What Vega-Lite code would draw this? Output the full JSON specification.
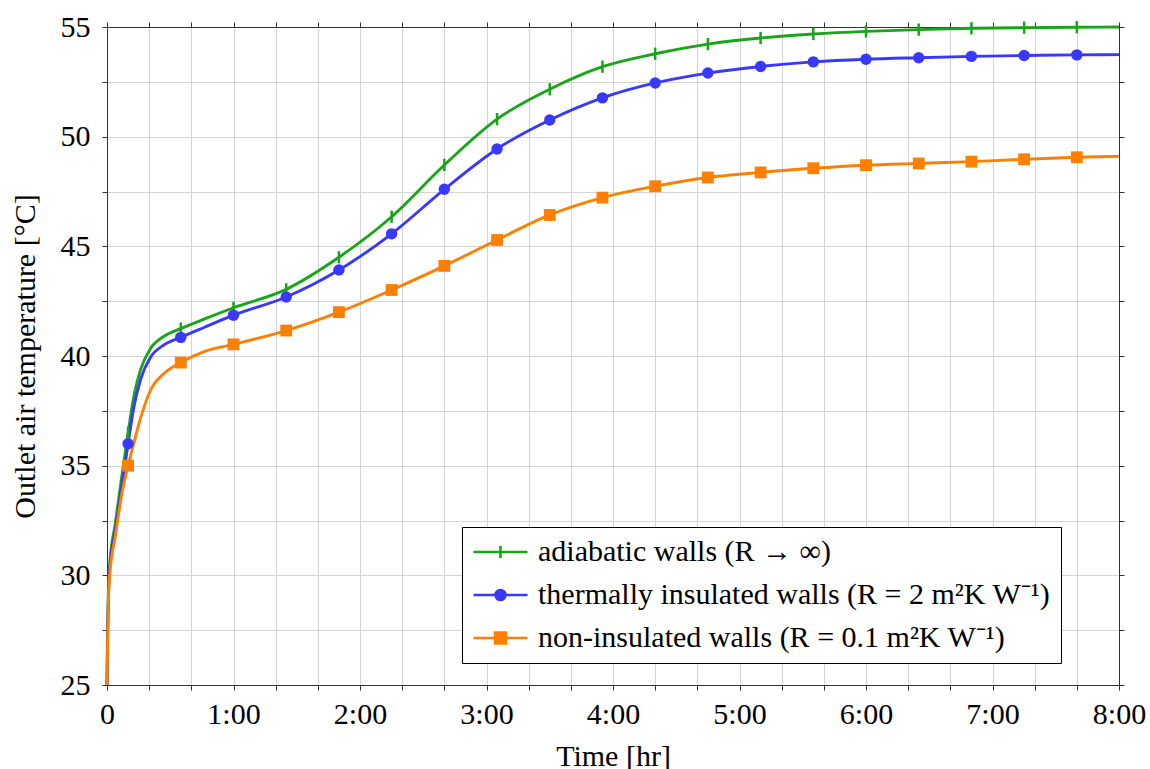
{
 "$schema": "https://vega.github.io/schema/vega-lite/v6.json",
 "width": 1012,
 "height": 658,
 "autosize": {"type": "none"},
 "padding": {"left": 107, "top": 27, "right": 31, "bottom": 84},
 "background": "white",
 "config": {
  "font": "Liberation Serif",
  "view": {"stroke": null},
  "style": {"guide-label": {"font": "Liberation Serif", "fill": "black"}, "guide-title": {"font": "Liberation Serif", "fontWeight": "normal"}},
  "axis": {
   "labelFont": "Liberation Serif", "titleFont": "Liberation Serif",
   "labelFontSize": 30, "titleFontSize": 30, "labelColor": "black", "titleColor": "black",
   "titleFontWeight": "normal", "domainColor": "#333333", "domainWidth": 1, "tickColor": "#333333", "tickWidth": 1, "tickSize": 5,
   "gridColor": "#d4d4d4", "gridWidth": 1, "labelOverlap": false, "labelFlush": false, "labelBound": false
  },
  "legend": {"labelFont": "Liberation Serif", "labelFontSize": 30, "labelColor": "black"}
 },
 "datasets": {
  "curves": [
   {"series": "adiabatic walls (R → ∞)", "t": 0, "temp": 25},
   {"series": "adiabatic walls (R → ∞)", "t": 0.3, "temp": 27.5},
   {"series": "adiabatic walls (R → ∞)", "t": 0.7, "temp": 29.4},
   {"series": "adiabatic walls (R → ∞)", "t": 1.3, "temp": 30.5},
   {"series": "adiabatic walls (R → ∞)", "t": 4, "temp": 32.4},
   {"series": "adiabatic walls (R → ∞)", "t": 7, "temp": 34.5},
   {"series": "adiabatic walls (R → ∞)", "t": 10, "temp": 36.5},
   {"series": "adiabatic walls (R → ∞)", "t": 12.8, "temp": 38.2},
   {"series": "adiabatic walls (R → ∞)", "t": 16, "temp": 39.4},
   {"series": "adiabatic walls (R → ∞)", "t": 20.7, "temp": 40.35},
   {"series": "adiabatic walls (R → ∞)", "t": 27, "temp": 40.9},
   {"series": "adiabatic walls (R → ∞)", "t": 35, "temp": 41.25},
   {"series": "adiabatic walls (R → ∞)", "t": 46, "temp": 41.68},
   {"series": "adiabatic walls (R → ∞)", "t": 60, "temp": 42.2},
   {"series": "adiabatic walls (R → ∞)", "t": 85, "temp": 43.04},
   {"series": "adiabatic walls (R → ∞)", "t": 110, "temp": 44.5},
   {"series": "adiabatic walls (R → ∞)", "t": 135, "temp": 46.35},
   {"series": "adiabatic walls (R → ∞)", "t": 160, "temp": 48.71},
   {"series": "adiabatic walls (R → ∞)", "t": 185, "temp": 50.8},
   {"series": "adiabatic walls (R → ∞)", "t": 210, "temp": 52.16},
   {"series": "adiabatic walls (R → ∞)", "t": 235, "temp": 53.19},
   {"series": "adiabatic walls (R → ∞)", "t": 260, "temp": 53.78},
   {"series": "adiabatic walls (R → ∞)", "t": 285, "temp": 54.22},
   {"series": "adiabatic walls (R → ∞)", "t": 310, "temp": 54.5},
   {"series": "adiabatic walls (R → ∞)", "t": 335, "temp": 54.68},
   {"series": "adiabatic walls (R → ∞)", "t": 360, "temp": 54.8},
   {"series": "adiabatic walls (R → ∞)", "t": 385, "temp": 54.88},
   {"series": "adiabatic walls (R → ∞)", "t": 410, "temp": 54.94},
   {"series": "adiabatic walls (R → ∞)", "t": 435, "temp": 54.97},
   {"series": "adiabatic walls (R → ∞)", "t": 460, "temp": 54.99},
   {"series": "adiabatic walls (R → ∞)", "t": 480, "temp": 55.0},
   {"series": "thermally insulated walls (R = 2 m²K W⁻¹)", "t": 0, "temp": 25},
   {"series": "thermally insulated walls (R = 2 m²K W⁻¹)", "t": 0.3, "temp": 27.4},
   {"series": "thermally insulated walls (R = 2 m²K W⁻¹)", "t": 0.7, "temp": 29.2},
   {"series": "thermally insulated walls (R = 2 m²K W⁻¹)", "t": 1.3, "temp": 30.3},
   {"series": "thermally insulated walls (R = 2 m²K W⁻¹)", "t": 4, "temp": 32.1},
   {"series": "thermally insulated walls (R = 2 m²K W⁻¹)", "t": 7, "temp": 34.05},
   {"series": "thermally insulated walls (R = 2 m²K W⁻¹)", "t": 10, "temp": 36.0},
   {"series": "thermally insulated walls (R = 2 m²K W⁻¹)", "t": 12.8, "temp": 37.7},
   {"series": "thermally insulated walls (R = 2 m²K W⁻¹)", "t": 16, "temp": 38.95},
   {"series": "thermally insulated walls (R = 2 m²K W⁻¹)", "t": 20.7, "temp": 39.95},
   {"series": "thermally insulated walls (R = 2 m²K W⁻¹)", "t": 27, "temp": 40.5},
   {"series": "thermally insulated walls (R = 2 m²K W⁻¹)", "t": 35, "temp": 40.85},
   {"series": "thermally insulated walls (R = 2 m²K W⁻¹)", "t": 46, "temp": 41.3},
   {"series": "thermally insulated walls (R = 2 m²K W⁻¹)", "t": 60, "temp": 41.86},
   {"series": "thermally insulated walls (R = 2 m²K W⁻¹)", "t": 85, "temp": 42.69},
   {"series": "thermally insulated walls (R = 2 m²K W⁻¹)", "t": 110, "temp": 43.92},
   {"series": "thermally insulated walls (R = 2 m²K W⁻¹)", "t": 135, "temp": 45.57},
   {"series": "thermally insulated walls (R = 2 m²K W⁻¹)", "t": 160, "temp": 47.6},
   {"series": "thermally insulated walls (R = 2 m²K W⁻¹)", "t": 185, "temp": 49.44},
   {"series": "thermally insulated walls (R = 2 m²K W⁻¹)", "t": 210, "temp": 50.76},
   {"series": "thermally insulated walls (R = 2 m²K W⁻¹)", "t": 235, "temp": 51.77},
   {"series": "thermally insulated walls (R = 2 m²K W⁻¹)", "t": 260, "temp": 52.45},
   {"series": "thermally insulated walls (R = 2 m²K W⁻¹)", "t": 285, "temp": 52.9},
   {"series": "thermally insulated walls (R = 2 m²K W⁻¹)", "t": 310, "temp": 53.2},
   {"series": "thermally insulated walls (R = 2 m²K W⁻¹)", "t": 335, "temp": 53.41},
   {"series": "thermally insulated walls (R = 2 m²K W⁻¹)", "t": 360, "temp": 53.53},
   {"series": "thermally insulated walls (R = 2 m²K W⁻¹)", "t": 385, "temp": 53.6},
   {"series": "thermally insulated walls (R = 2 m²K W⁻¹)", "t": 410, "temp": 53.66},
   {"series": "thermally insulated walls (R = 2 m²K W⁻¹)", "t": 435, "temp": 53.7},
   {"series": "thermally insulated walls (R = 2 m²K W⁻¹)", "t": 460, "temp": 53.73},
   {"series": "thermally insulated walls (R = 2 m²K W⁻¹)", "t": 480, "temp": 53.74},
   {"series": "non-insulated walls (R = 0.1 m²K W⁻¹)", "t": 0, "temp": 25},
   {"series": "non-insulated walls (R = 0.1 m²K W⁻¹)", "t": 0.3, "temp": 27.0},
   {"series": "non-insulated walls (R = 0.1 m²K W⁻¹)", "t": 0.7, "temp": 28.9},
   {"series": "non-insulated walls (R = 0.1 m²K W⁻¹)", "t": 1.3, "temp": 30.0},
   {"series": "non-insulated walls (R = 0.1 m²K W⁻¹)", "t": 4, "temp": 31.8},
   {"series": "non-insulated walls (R = 0.1 m²K W⁻¹)", "t": 7, "temp": 33.7},
   {"series": "non-insulated walls (R = 0.1 m²K W⁻¹)", "t": 10, "temp": 35.0},
   {"series": "non-insulated walls (R = 0.1 m²K W⁻¹)", "t": 12.8, "temp": 36.05},
   {"series": "non-insulated walls (R = 0.1 m²K W⁻¹)", "t": 16, "temp": 37.2},
   {"series": "non-insulated walls (R = 0.1 m²K W⁻¹)", "t": 20.7, "temp": 38.45},
   {"series": "non-insulated walls (R = 0.1 m²K W⁻¹)", "t": 27, "temp": 39.2},
   {"series": "non-insulated walls (R = 0.1 m²K W⁻¹)", "t": 35, "temp": 39.7},
   {"series": "non-insulated walls (R = 0.1 m²K W⁻¹)", "t": 46, "temp": 40.2},
   {"series": "non-insulated walls (R = 0.1 m²K W⁻¹)", "t": 60, "temp": 40.53},
   {"series": "non-insulated walls (R = 0.1 m²K W⁻¹)", "t": 85, "temp": 41.16},
   {"series": "non-insulated walls (R = 0.1 m²K W⁻¹)", "t": 110, "temp": 42.0},
   {"series": "non-insulated walls (R = 0.1 m²K W⁻¹)", "t": 135, "temp": 43.01},
   {"series": "non-insulated walls (R = 0.1 m²K W⁻¹)", "t": 160, "temp": 44.11},
   {"series": "non-insulated walls (R = 0.1 m²K W⁻¹)", "t": 185, "temp": 45.29},
   {"series": "non-insulated walls (R = 0.1 m²K W⁻¹)", "t": 210, "temp": 46.43},
   {"series": "non-insulated walls (R = 0.1 m²K W⁻¹)", "t": 235, "temp": 47.22},
   {"series": "non-insulated walls (R = 0.1 m²K W⁻¹)", "t": 260, "temp": 47.74},
   {"series": "non-insulated walls (R = 0.1 m²K W⁻¹)", "t": 285, "temp": 48.14},
   {"series": "non-insulated walls (R = 0.1 m²K W⁻¹)", "t": 310, "temp": 48.37},
   {"series": "non-insulated walls (R = 0.1 m²K W⁻¹)", "t": 335, "temp": 48.56},
   {"series": "non-insulated walls (R = 0.1 m²K W⁻¹)", "t": 360, "temp": 48.7},
   {"series": "non-insulated walls (R = 0.1 m²K W⁻¹)", "t": 385, "temp": 48.78},
   {"series": "non-insulated walls (R = 0.1 m²K W⁻¹)", "t": 410, "temp": 48.86},
   {"series": "non-insulated walls (R = 0.1 m²K W⁻¹)", "t": 435, "temp": 48.97},
   {"series": "non-insulated walls (R = 0.1 m²K W⁻¹)", "t": 460, "temp": 49.06},
   {"series": "non-insulated walls (R = 0.1 m²K W⁻¹)", "t": 480, "temp": 49.1}
  ],
  "marks": [
   {"series": "adiabatic walls (R → ∞)", "t": 10, "temp": 36.5},
   {"series": "adiabatic walls (R → ∞)", "t": 35, "temp": 41.25},
   {"series": "adiabatic walls (R → ∞)", "t": 60, "temp": 42.2},
   {"series": "adiabatic walls (R → ∞)", "t": 85, "temp": 43.04},
   {"series": "adiabatic walls (R → ∞)", "t": 110, "temp": 44.5},
   {"series": "adiabatic walls (R → ∞)", "t": 135, "temp": 46.35},
   {"series": "adiabatic walls (R → ∞)", "t": 160, "temp": 48.71},
   {"series": "adiabatic walls (R → ∞)", "t": 185, "temp": 50.8},
   {"series": "adiabatic walls (R → ∞)", "t": 210, "temp": 52.16},
   {"series": "adiabatic walls (R → ∞)", "t": 235, "temp": 53.19},
   {"series": "adiabatic walls (R → ∞)", "t": 260, "temp": 53.78},
   {"series": "adiabatic walls (R → ∞)", "t": 285, "temp": 54.22},
   {"series": "adiabatic walls (R → ∞)", "t": 310, "temp": 54.5},
   {"series": "adiabatic walls (R → ∞)", "t": 335, "temp": 54.68},
   {"series": "adiabatic walls (R → ∞)", "t": 360, "temp": 54.8},
   {"series": "adiabatic walls (R → ∞)", "t": 385, "temp": 54.88},
   {"series": "adiabatic walls (R → ∞)", "t": 410, "temp": 54.94},
   {"series": "adiabatic walls (R → ∞)", "t": 435, "temp": 54.97},
   {"series": "adiabatic walls (R → ∞)", "t": 460, "temp": 54.99},
   {"series": "thermally insulated walls (R = 2 m²K W⁻¹)", "t": 10, "temp": 36.0},
   {"series": "thermally insulated walls (R = 2 m²K W⁻¹)", "t": 35, "temp": 40.85},
   {"series": "thermally insulated walls (R = 2 m²K W⁻¹)", "t": 60, "temp": 41.86},
   {"series": "thermally insulated walls (R = 2 m²K W⁻¹)", "t": 85, "temp": 42.69},
   {"series": "thermally insulated walls (R = 2 m²K W⁻¹)", "t": 110, "temp": 43.92},
   {"series": "thermally insulated walls (R = 2 m²K W⁻¹)", "t": 135, "temp": 45.57},
   {"series": "thermally insulated walls (R = 2 m²K W⁻¹)", "t": 160, "temp": 47.6},
   {"series": "thermally insulated walls (R = 2 m²K W⁻¹)", "t": 185, "temp": 49.44},
   {"series": "thermally insulated walls (R = 2 m²K W⁻¹)", "t": 210, "temp": 50.76},
   {"series": "thermally insulated walls (R = 2 m²K W⁻¹)", "t": 235, "temp": 51.77},
   {"series": "thermally insulated walls (R = 2 m²K W⁻¹)", "t": 260, "temp": 52.45},
   {"series": "thermally insulated walls (R = 2 m²K W⁻¹)", "t": 285, "temp": 52.9},
   {"series": "thermally insulated walls (R = 2 m²K W⁻¹)", "t": 310, "temp": 53.2},
   {"series": "thermally insulated walls (R = 2 m²K W⁻¹)", "t": 335, "temp": 53.41},
   {"series": "thermally insulated walls (R = 2 m²K W⁻¹)", "t": 360, "temp": 53.53},
   {"series": "thermally insulated walls (R = 2 m²K W⁻¹)", "t": 385, "temp": 53.6},
   {"series": "thermally insulated walls (R = 2 m²K W⁻¹)", "t": 410, "temp": 53.66},
   {"series": "thermally insulated walls (R = 2 m²K W⁻¹)", "t": 435, "temp": 53.7},
   {"series": "thermally insulated walls (R = 2 m²K W⁻¹)", "t": 460, "temp": 53.73},
   {"series": "non-insulated walls (R = 0.1 m²K W⁻¹)", "t": 10, "temp": 35.0},
   {"series": "non-insulated walls (R = 0.1 m²K W⁻¹)", "t": 35, "temp": 39.7},
   {"series": "non-insulated walls (R = 0.1 m²K W⁻¹)", "t": 60, "temp": 40.53},
   {"series": "non-insulated walls (R = 0.1 m²K W⁻¹)", "t": 85, "temp": 41.16},
   {"series": "non-insulated walls (R = 0.1 m²K W⁻¹)", "t": 110, "temp": 42.0},
   {"series": "non-insulated walls (R = 0.1 m²K W⁻¹)", "t": 135, "temp": 43.01},
   {"series": "non-insulated walls (R = 0.1 m²K W⁻¹)", "t": 160, "temp": 44.11},
   {"series": "non-insulated walls (R = 0.1 m²K W⁻¹)", "t": 185, "temp": 45.29},
   {"series": "non-insulated walls (R = 0.1 m²K W⁻¹)", "t": 210, "temp": 46.43},
   {"series": "non-insulated walls (R = 0.1 m²K W⁻¹)", "t": 235, "temp": 47.22},
   {"series": "non-insulated walls (R = 0.1 m²K W⁻¹)", "t": 260, "temp": 47.74},
   {"series": "non-insulated walls (R = 0.1 m²K W⁻¹)", "t": 285, "temp": 48.14},
   {"series": "non-insulated walls (R = 0.1 m²K W⁻¹)", "t": 310, "temp": 48.37},
   {"series": "non-insulated walls (R = 0.1 m²K W⁻¹)", "t": 335, "temp": 48.56},
   {"series": "non-insulated walls (R = 0.1 m²K W⁻¹)", "t": 360, "temp": 48.7},
   {"series": "non-insulated walls (R = 0.1 m²K W⁻¹)", "t": 385, "temp": 48.78},
   {"series": "non-insulated walls (R = 0.1 m²K W⁻¹)", "t": 410, "temp": 48.86},
   {"series": "non-insulated walls (R = 0.1 m²K W⁻¹)", "t": 435, "temp": 48.97},
   {"series": "non-insulated walls (R = 0.1 m²K W⁻¹)", "t": 460, "temp": 49.06}
  ]
 },
 "layer": [
  {
   "data": {"name": "curves"},
   "mark": {"type": "line", "interpolate": "monotone", "strokeWidth": 2.9},
   "encoding": {
    "x": {
     "field": "t", "type": "quantitative",
     "scale": {"domain": [0, 480], "nice": false, "zero": false},
     "axis": {
      "orient": "bottom",
      "values": [0,20,40,60,80,100,120,140,160,180,200,220,240,260,280,300,320,340,360,380,400,420,440,460,480],
      "labelExpr": "datum.value % 60 == 0 ? (datum.value == 0 ? '0' : (datum.value / 60) + ':00') : ''",
      "labelFont": "Liberation Serif", "labelFontSize": 30, "labelColor": "black",
      "grid": true, "tickSize": 5, "labelPadding": 9,
      "title": "Time [hr]", "titleY": 56, "titleBaseline": "top",
      "encode": {"labels": {"font": {"value": "Liberation Serif"}}, "ticks": {"y": {"value": -5}}}
     }
    },
    "y": {
     "field": "temp", "type": "quantitative",
     "scale": {"domain": [25, 55], "nice": false, "zero": false},
     "axis": {
      "orient": "left",
      "values": [25,27.5,30,32.5,35,37.5,40,42.5,45,47.5,50,52.5,55],
      "labelExpr": "datum.value % 5 == 0 ? '' + datum.value : ''",
      "labelFont": "Liberation Serif", "labelFontSize": 30, "labelColor": "black",
      "grid": true, "tickSize": 5, "labelPadding": 12,
      "title": "Outlet air temperature [°C]", "titleX": -67, "titleBaseline": "bottom",
      "encode": {"labels": {"font": {"value": "Liberation Serif"}}, "ticks": {"x": {"value": 5}}}
     }
    },
    "color": {
     "field": "series", "type": "nominal",
     "scale": {
      "domain": ["adiabatic walls (R → ∞)", "thermally insulated walls (R = 2 m²K W⁻¹)", "non-insulated walls (R = 0.1 m²K W⁻¹)"],
      "range": ["#19a519", "#3838ff", "#ff8000"]
     },
     "legend": {
      "title": null, "orient": "none", "legendX": 355, "legendY": 500,
      "labelFont": "Liberation Serif", "labelFontSize": 30, "labelColor": "black", "labelLimit": 800,
      "symbolSize": 729, "symbolStrokeWidth": 2.6, "symbolOpacity": 1,
      "labelOffset": 36, "rowPadding": 13, "padding": 10,
      "strokeColor": "black", "fillColor": "white"
     }
    }
   }
  },
  {
   "data": {"name": "marks"},
   "transform": [{"filter": {"field": "series", "equal": "adiabatic walls (R → ∞)"}}],
   "mark": {"type": "point", "filled": false, "opacity": 1, "strokeWidth": 2.5, "shape": "M0,-1V1", "size": 150},
   "encoding": {
    "x": {
     "field": "t", "type": "quantitative",
     "axis": {
      "orient": "top",
      "values": [0,20,40,60,80,100,120,140,160,180,200,220,240,260,280,300,320,340,360,380,400,420,440,460,480],
      "labels": false, "grid": false, "tickSize": 5, "title": null,
      "encode": {"ticks": {"y": {"value": 5}}}
     }
    },
    "y": {
     "field": "temp", "type": "quantitative",
     "axis": {
      "orient": "right",
      "values": [25,27.5,30,32.5,35,37.5,40,42.5,45,47.5,50,52.5,55],
      "labels": false, "grid": false, "tickSize": 5, "title": null,
      "encode": {"ticks": {"x": {"value": -5}}}
     }
    },
    "color": {"field": "series", "type": "nominal"}
   }
  },
  {
   "data": {"name": "marks"},
   "transform": [{"filter": {"field": "series", "equal": "thermally insulated walls (R = 2 m²K W⁻¹)"}}],
   "mark": {"type": "point", "filled": true, "opacity": 1, "shape": "circle", "size": 130},
   "encoding": {
    "x": {"field": "t", "type": "quantitative", "axis": null},
    "y": {"field": "temp", "type": "quantitative", "axis": null},
    "color": {"field": "series", "type": "nominal"}
   }
  },
  {
   "data": {"name": "marks"},
   "transform": [{"filter": {"field": "series", "equal": "non-insulated walls (R = 0.1 m²K W⁻¹)"}}],
   "mark": {"type": "point", "filled": true, "opacity": 1, "shape": "square", "size": 140},
   "encoding": {
    "x": {"field": "t", "type": "quantitative", "axis": null},
    "y": {"field": "temp", "type": "quantitative", "axis": null},
    "color": {"field": "series", "type": "nominal"}
   }
  },
  {
   "data": {"name": "marks"},
   "mark": {"type": "point", "filled": true, "opacity": 1, "size": 0},
   "encoding": {
    "x": {"field": "t", "type": "quantitative", "axis": null},
    "y": {"field": "temp", "type": "quantitative", "axis": null},
    "color": {"field": "series", "type": "nominal"},
    "shape": {
     "field": "series", "type": "nominal",
     "scale": {
      "domain": ["adiabatic walls (R → ∞)", "thermally insulated walls (R = 2 m²K W⁻¹)", "non-insulated walls (R = 0.1 m²K W⁻¹)"],
      "range": [
       "M-1,0H3M1,-0.45V0.45",
       "M-1,0H3M0.63,0A0.37,0.37 0 1,0 1.37,0A0.37,0.37 0 1,0 0.63,0Z",
       "M-1,0H3M0.6,-0.4H1.4V0.4H0.6Z"
      ]
     }
    }
   }
  }
 ],
 "resolve": {"axis": {"x": "independent", "y": "independent"}}
}
